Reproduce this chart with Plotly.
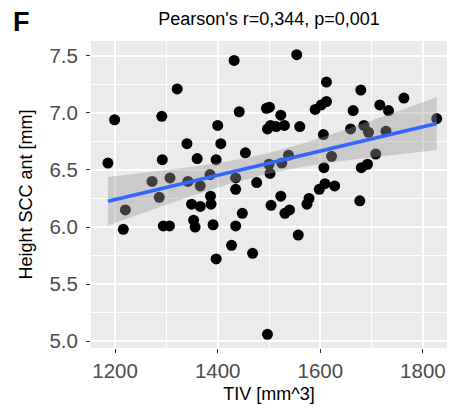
import numpy as np
import plotly.graph_objects as go

# TIV [mm^3] and Height SCC ant [mm]
tiv = [1432, 1321, 1199, 1291, 1442, 1495, 1501, 1400, 1340, 1406,
       1454, 1186, 1292, 1360, 1397, 1272, 1307, 1342, 1366, 1385,
       1435, 1435, 1476, 1220, 1286, 1216, 1294, 1306, 1349, 1366,
       1386, 1387, 1353, 1356, 1391, 1435, 1448, 1427, 1468, 1397,
       1497, 1504, 1523, 1531, 1540, 1574, 1578, 1598, 1609, 1628,
       1677, 1557, 1554, 1612, 1679, 1763, 1612, 1602, 1590, 1716,
       1733, 1664, 1523, 1497, 1503, 1514, 1530, 1560, 1606, 1659,
       1685, 1694, 1728, 1827, 1538, 1525, 1500, 1502, 1622, 1607,
       1708, 1680, 1692]
height = [7.46, 7.21, 6.94, 6.97, 7.01, 7.04, 7.05, 6.89, 6.73, 6.73,
          6.65, 6.56, 6.59, 6.60, 6.59, 6.40, 6.43, 6.40, 6.36, 6.46,
          6.43, 6.33, 6.39, 6.15, 6.26, 5.98, 6.01, 6.01, 6.20, 6.18,
          6.27, 6.20, 6.06, 6.00, 6.02, 6.01, 6.12, 5.84, 5.77, 5.72,
          5.06, 6.19, 6.27, 6.12, 6.15, 6.20, 6.25, 6.33, 6.38, 6.36,
          6.23, 5.93, 7.51, 7.27, 7.20, 7.13, 7.10, 7.07, 7.03, 7.07,
          7.02, 7.02, 6.98, 6.86, 6.89, 6.88, 6.89, 6.88, 6.81, 6.86,
          6.89, 6.83, 6.84, 6.95, 6.63, 6.56, 6.55, 6.47, 6.62, 6.52,
          6.64, 6.52, 6.55]

x_ticks = [1200, 1400, 1600, 1800]
y_ticks = [5.0, 5.5, 6.0, 6.5, 7.0, 7.5]
title_text = "Pearson's r=0,344, p=0,001"

# linear fit with 95% confidence band (like geom_smooth(method="lm"))
x = np.array(tiv, dtype=float)
y = np.array(height, dtype=float)
n = len(x)
b1, b0 = np.polyfit(x, y, 1)
resid = y - (b0 + b1 * x)
s = np.sqrt(np.sum(resid ** 2) / (n - 2))
xs = np.linspace(x.min(), x.max(), 80)
fit = b0 + b1 * xs
se = s * np.sqrt(1 / n + (xs - x.mean()) ** 2 / np.sum((x - x.mean()) ** 2))
t = 1.99
lo, hi = fit - t * se, fit + t * se

fig = go.Figure()

fig.add_trace(go.Scatter(
    x=tiv, y=height, mode='markers',
    marker=dict(size=11, color='black'),
    showlegend=False
))
fig.add_trace(go.Scatter(
    x=np.concatenate([xs, xs[::-1]]), y=np.concatenate([hi, lo[::-1]]),
    fill='toself', fillcolor='rgba(153,153,153,0.4)',
    line=dict(width=0), mode='lines', hoverinfo='skip', showlegend=False
))
fig.add_trace(go.Scatter(
    x=xs, y=fit, mode='lines',
    line=dict(color='#3366FF', width=3.5), showlegend=False
))

axis_common = dict(
    showgrid=True, gridcolor='white', gridwidth=1.8,
    zeroline=False, showline=False, automargin=False,
    ticks='outside', ticklen=4, tickwidth=1.4, tickcolor='#333333',
    tickfont=dict(size=20.5, color='#4D4D4D'),
    minor=dict(showgrid=True, gridcolor='white', gridwidth=0.8),
)

fig.update_layout(
    width=452, height=408,
    margin=dict(l=91, r=5, t=41, b=60),
    plot_bgcolor='#EBEBEB', paper_bgcolor='white',
    font=dict(family='Liberation Sans, Arial, sans-serif', color='black'),
    title=dict(text=title_text, x=0.5, xref='paper', y=0.955, yref='container',
               xanchor='center', yanchor='middle', font=dict(size=18)),
    xaxis=dict(range=[1153, 1847], tickvals=x_ticks,
               title=dict(text='TIV [mm^3]', font=dict(size=18), standoff=6),
               **axis_common),
    yaxis=dict(range=[4.94, 7.63], tickvals=y_ticks, tickformat='.1f',
               ticklabelstandoff=4,
               title=dict(text='Height SCC ant [mm]', font=dict(size=18), standoff=12),
               **axis_common),
    annotations=[dict(text='<b>F</b>', xref='paper', yref='paper',
                      x=-0.194, y=1.062, xanchor='center', yanchor='middle',
                      showarrow=False, font=dict(size=27, color='black'))],
)
fig.update_xaxes(minor_tickvals=[1300, 1500, 1700], minor_ticks='')
fig.update_yaxes(minor_tickvals=[5.25, 5.75, 6.25, 6.75, 7.25], minor_ticks='')

# drop the browser's default body margin so the figure sits at the page corner
fig.write_html("out.html", config={'displayModeBar': False},
               post_script="document.body.style.margin='0';")
